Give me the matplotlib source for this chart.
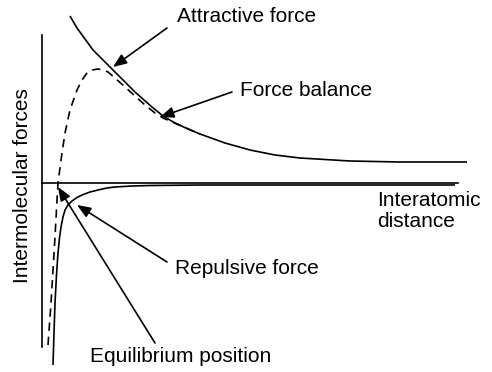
import matplotlib
matplotlib.use("Agg")
import matplotlib.pyplot as plt

plt.rcParams['font.family'] = ['Liberation Sans', 'DejaVu Sans']

# Schematic curves (arbitrary units: distance, force)
attr_x = [28, 35, 43, 51, 60, 68, 76, 85, 93, 102, 110, 121, 133, 146, 158,
          183, 208, 233, 258, 308, 358, 425]
attr_y = [167, 155, 144, 133, 124, 116, 108, 99, 91, 83, 76, 67, 60, 54, 49,
          40, 33, 28, 25, 22, 21, 21]

bal_x = [6, 9, 13, 15, 16, 19, 23, 28, 35, 40, 45, 50, 56, 61, 66, 73, 83, 93,
         103, 113, 121, 158]
bal_y = [-162, -120, -54, -17, 0, 23, 50, 73, 93, 103, 110, 113, 114, 113, 111,
         105, 96, 87, 78, 70, 65, 49]

rep_x = [11, 12, 13, 14.5, 16, 17.5, 19, 21, 23, 26, 30, 35, 40, 48, 56, 65,
         73, 90, 108, 158, 258, 413]
rep_y = [-182, -150, -120, -92, -70, -55, -44, -34, -27, -22, -18, -14.5, -12,
         -9, -7, -5, -4, -3, -2.5, -2, -2, -2]

# labels: (text, arrow start, arrow tip, text position)
labels = [
    ("Attractive force", (125, 155), (71, 116), (135, 167)),
    ("Force balance", (190, 91), (118, 66), (198, 93)),
    ("Repulsive force", (125, -79), (35, -22), (133, -86)),
    ("Equilibrium position", (113, -160), (16, -4), (48, -174)),
]

fig = plt.figure(figsize=(4.92, 3.72), dpi=100)
ax = fig.add_axes([0, 0, 1, 1])
ax.set_xlim(-42, 450)
ax.set_ylim(-189, 183)

# axes drawn as spines through the origin
for side in ['top', 'right']:
    ax.spines[side].set_visible(False)
ax.spines['left'].set_position(('data', 0))
ax.spines['bottom'].set_position(('data', 0))
ax.spines['left'].set_bounds(-164, 148)
ax.spines['bottom'].set_bounds(0, 416)
for side in ['left', 'bottom']:
    ax.spines[side].set_linewidth(1.2)
ax.set_xticks([])
ax.set_yticks([])
ax.patch.set_alpha(0)

ax.plot(attr_x, attr_y, color='black', lw=1.2, solid_capstyle='butt')
ax.plot(rep_x, rep_y, color='black', lw=1.2, solid_capstyle='butt')
ax.plot(bal_x, bal_y, color='black', lw=1.2, ls=(0, (5, 3.5)))

for text, start, tip, pos in labels:
    ax.annotate('', xy=tip, xytext=start,
                arrowprops=dict(arrowstyle='-|>,head_length=0.55,head_width=0.22',
                                color='black', lw=1.2, shrinkA=0, shrinkB=0,
                                mutation_scale=15))
    ax.text(pos[0], pos[1], text, fontsize=15, ha='left', va='center')

ax.text(335, -28, "Interatomic\ndistance", fontsize=15, ha='left', va='center',
        linespacing=1.1)
ax.text(-19, -3, "Intermolecular forces", fontsize=15, ha='center', va='center',
        rotation=90)

fig.savefig("out.png", dpi=100)
